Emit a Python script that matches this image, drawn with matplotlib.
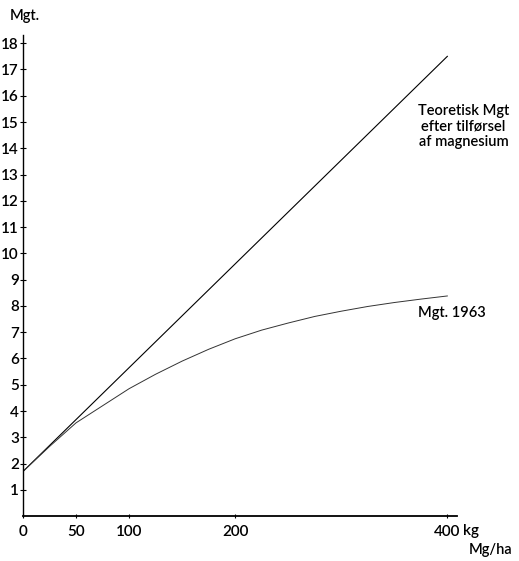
import matplotlib
matplotlib.use("Agg")
import matplotlib.pyplot as plt

# Mg dose (kg/ha) and yield (Mgt.)
theory_kg = [0, 400]
theory_mgt = [1.7, 17.5]

yield_kg = [0, 25, 50, 75, 100, 125, 150, 175, 200, 225, 250, 275, 300, 325, 350, 375, 400]
yield_mgt = [1.7, 2.65, 3.55, 4.2, 4.85, 5.4, 5.9, 6.35, 6.75, 7.08, 7.35, 7.6, 7.8, 7.98, 8.13, 8.26, 8.38]

x_ticks = [0, 50, 100, 200, 400]
y_ticks = list(range(1, 19))

plt.rcParams['font.family'] = ['Lato', 'DejaVu Sans']
plt.rcParams['font.weight'] = 'semibold'

fig = plt.figure(figsize=(5.19, 5.61), dpi=100)
ax = fig.add_axes([0.0443, 0.080, 0.836, 0.857])

ax.plot(theory_kg, theory_mgt, color='black', lw=0.8)
ax.plot(yield_kg, yield_mgt, color='#333333', lw=0.7)

ax.set_xlim(0, 409)
ax.set_ylim(0, 18.3)
ax.spines['top'].set_visible(False)
ax.spines['right'].set_visible(False)
ax.spines['left'].set_linewidth(1.0)
ax.spines['bottom'].set_linewidth(1.3)

ax.set_yticks(y_ticks)
ax.set_yticklabels([str(v) for v in y_ticks])
ax.set_xticks(x_ticks)
ax.set_xticklabels([str(v) for v in x_ticks])
ax.tick_params(axis='y', direction='inout', length=4, width=0.8, pad=1, labelsize=11)
ax.tick_params(axis='x', direction='inout', length=3, width=0.8, pad=5, labelsize=11)

fig.text(0.018, 0.972, "Mgt.", ha='left', va='center', fontsize=10.5)
fig.text(0.893, 0.053, "kg", ha='left', va='center', fontsize=11)
fig.text(0.945, 0.020, "Mg/ha", ha='center', va='center', fontsize=10.5)

fig.text(0.893, 0.775, "Teoretisk Mgt\nefter tilførsel\naf magnesium",
         ha='center', va='center', fontsize=10.5, linespacing=1.15)
fig.text(0.87, 0.442, "Mgt. 1963", ha='center', va='center', fontsize=10.5)

fig.savefig("out.png", dpi=100)
